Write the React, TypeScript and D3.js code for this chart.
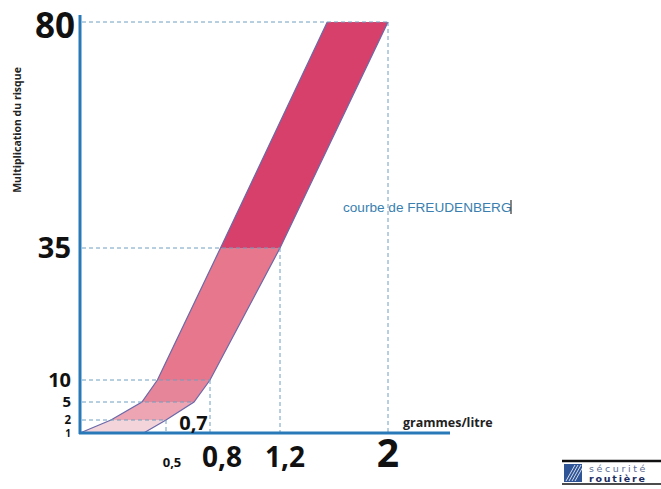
import React from 'react'
import { scaleLinear, line } from 'd3'

// risk multiplication levels and the two edges of the Freudenberg band (g/l)
const riskLevels = [1, 2, 5, 10, 35, 80]
const leftEdgeBac = [0, 0.18, 0.36, 0.45, 0.86, 1.55]
const rightEdgeBac = [0.37, 0.5, 0.7, 0.8, 1.2, 2]

const yTickLabels = ['1', '2', '5', '10', '35', '80']
const xTickValues = [0.5, 0.8, 1.2, 2]
const xTickLabels = ['0,5', '0,8', '1,2', '2']
const guideRisks = [2, 5, 10, 35, 80]
const dropRisks = [2, 10, 35, 80]

// styles
const bandColors = ['#f3d4db', '#eda5b4', '#e6859a', '#e6778d', '#d7406b']
const yTickSizes = [10, 11.5, 15, 20, 29, 35]
const yTickDy = [4, 3.5, 5.4, 7.2, 10.4, 15.5]
const xTickSizes = [13, 28, 28, 39]
const xTickShift = [6, 12, 5, 0]

const WIDTH = 661
const HEIGHT = 489
const FONT = '"Open Sans", "DejaVu Sans", sans-serif'
const AXIS = '#2979b9'
const GUIDE = '#6f9fc0'

export default function App(): JSX.Element {
  const x = scaleLinear().domain([0, 0.5, 0.7, 0.8, 1.2, 2]).range([80, 166, 194, 210, 280, 388])
  const y = scaleLinear().domain([1, 2, 5, 10, 35, 80]).range([433, 420, 402, 380, 248, 22])

  const edge = line<number>()
    .x((d) => x(d))
    .y((_d, i) => y(riskLevels[i]))

  const idx = (r: number) => riskLevels.indexOf(r)

  return (
    <svg
      width={WIDTH}
      height={HEIGHT}
      style={{ position: 'absolute', left: 0, top: 0, background: '#fff' }}
      xmlns="http://www.w3.org/2000/svg"
    >
      {/* band segments */}
      <g className="band">
        {bandColors.map((c, i) => {
          const pts: [number, number][] = [
            [x(leftEdgeBac[i]), y(riskLevels[i])],
            [x(leftEdgeBac[i + 1]), y(riskLevels[i + 1])],
            [x(rightEdgeBac[i + 1]), y(riskLevels[i + 1])],
            [x(rightEdgeBac[i]), y(riskLevels[i])],
          ]
          return <polygon key={i} points={pts.map((p) => p.join(',')).join(' ')} fill={c} />
        })}
        <path d={edge(leftEdgeBac) || ''} fill="none" stroke="#6b68a8" strokeWidth={1.2} />
        <path d={edge(rightEdgeBac) || ''} fill="none" stroke="#6b68a8" strokeWidth={1.2} />
      </g>

      {/* dashed guides */}
      <g className="guides" stroke={GUIDE} strokeWidth={1} strokeDasharray="4 3" fill="none">
        {guideRisks.map((r) => (
          <line key={'h' + r} x1={82} x2={x(rightEdgeBac[idx(r)])} y1={y(r)} y2={y(r)} />
        ))}
        {dropRisks.map((r) => (
          <line
            key={'v' + r}
            x1={x(rightEdgeBac[idx(r)])}
            x2={x(rightEdgeBac[idx(r)])}
            y1={y(r)}
            y2={y(1)}
          />
        ))}
      </g>

      {/* axes */}
      <line x1={80} x2={80} y1={15} y2={434} stroke={AXIS} strokeWidth={3} />
      <line x1={79} x2={450} y1={433} y2={433} stroke={AXIS} strokeWidth={3} />

      {/* y tick labels */}
      <g fontFamily={FONT} fontWeight={700} fill="#111" textAnchor="end">
        {yTickLabels.map((t, i) => (
          <text key={t} x={i === 5 ? 75 : 71} y={y(riskLevels[i]) + yTickDy[i]} fontSize={yTickSizes[i]}>
            {t}
          </text>
        ))}
      </g>

      {/* x tick labels */}
      <g fontFamily={FONT} fontWeight={700} fill="#111" textAnchor="middle">
        {xTickValues.map((v, i) => (
          <text key={v} x={x(v) + xTickShift[i]} y={467} fontSize={xTickSizes[i]}>
            {xTickLabels[i]}
          </text>
        ))}
        <text x={x(0.7) - 0.5} y={430} fontSize={20}>
          0,7
        </text>
      </g>

      <text x={403} y={427} fontFamily={FONT} fontWeight={700} fontSize={12.5} fill="#222">
        grammes/litre
      </text>

      <text
        transform="translate(21,130) rotate(-90)"
        textAnchor="middle"
        fontFamily={FONT}
        fontWeight={700}
        fontSize={10.5}
        fill="#222"
      >
        Multiplication du risque
      </text>

      <text x={343} y={212} fontFamily='"Liberation Sans", Arial, sans-serif' fontSize={13.6} fill="#3a7fb0">
        courbe de FREUDENBERG
      </text>
      <line x1={511} x2={511} y1={200} y2={214} stroke="#333" strokeWidth={1.2} />

      {/* logo */}
      <g className="logo">
        <line x1={562} x2={661} y1={461} y2={461} stroke="#111" strokeWidth={2.5} />
        <line x1={562} x2={661} y1={484} y2={484} stroke="#111" strokeWidth={1.5} />
        <rect x={564} y={464} width={18} height={18} fill="#2f5597" />
        {[0, 3, 6, 9].map((o) => (
          <line key={o} x1={566 + o} y1={481} x2={575 + o} y2={465} stroke="#fff" strokeWidth={0.8} />
        ))}
        <text x={589} y={471.5} fontFamily='"DejaVu Sans", sans-serif' fontSize={9.5} letterSpacing={2.6} fill="#5b6d96">
          sécurité
        </text>
        <text
          x={589}
          y={481.5}
          fontFamily='"DejaVu Sans", sans-serif'
          fontSize={9.5}
          fontWeight={700}
          letterSpacing={1.8}
          fill="#1c2d63"
        >
          routière
        </text>
      </g>
    </svg>
  )
}
